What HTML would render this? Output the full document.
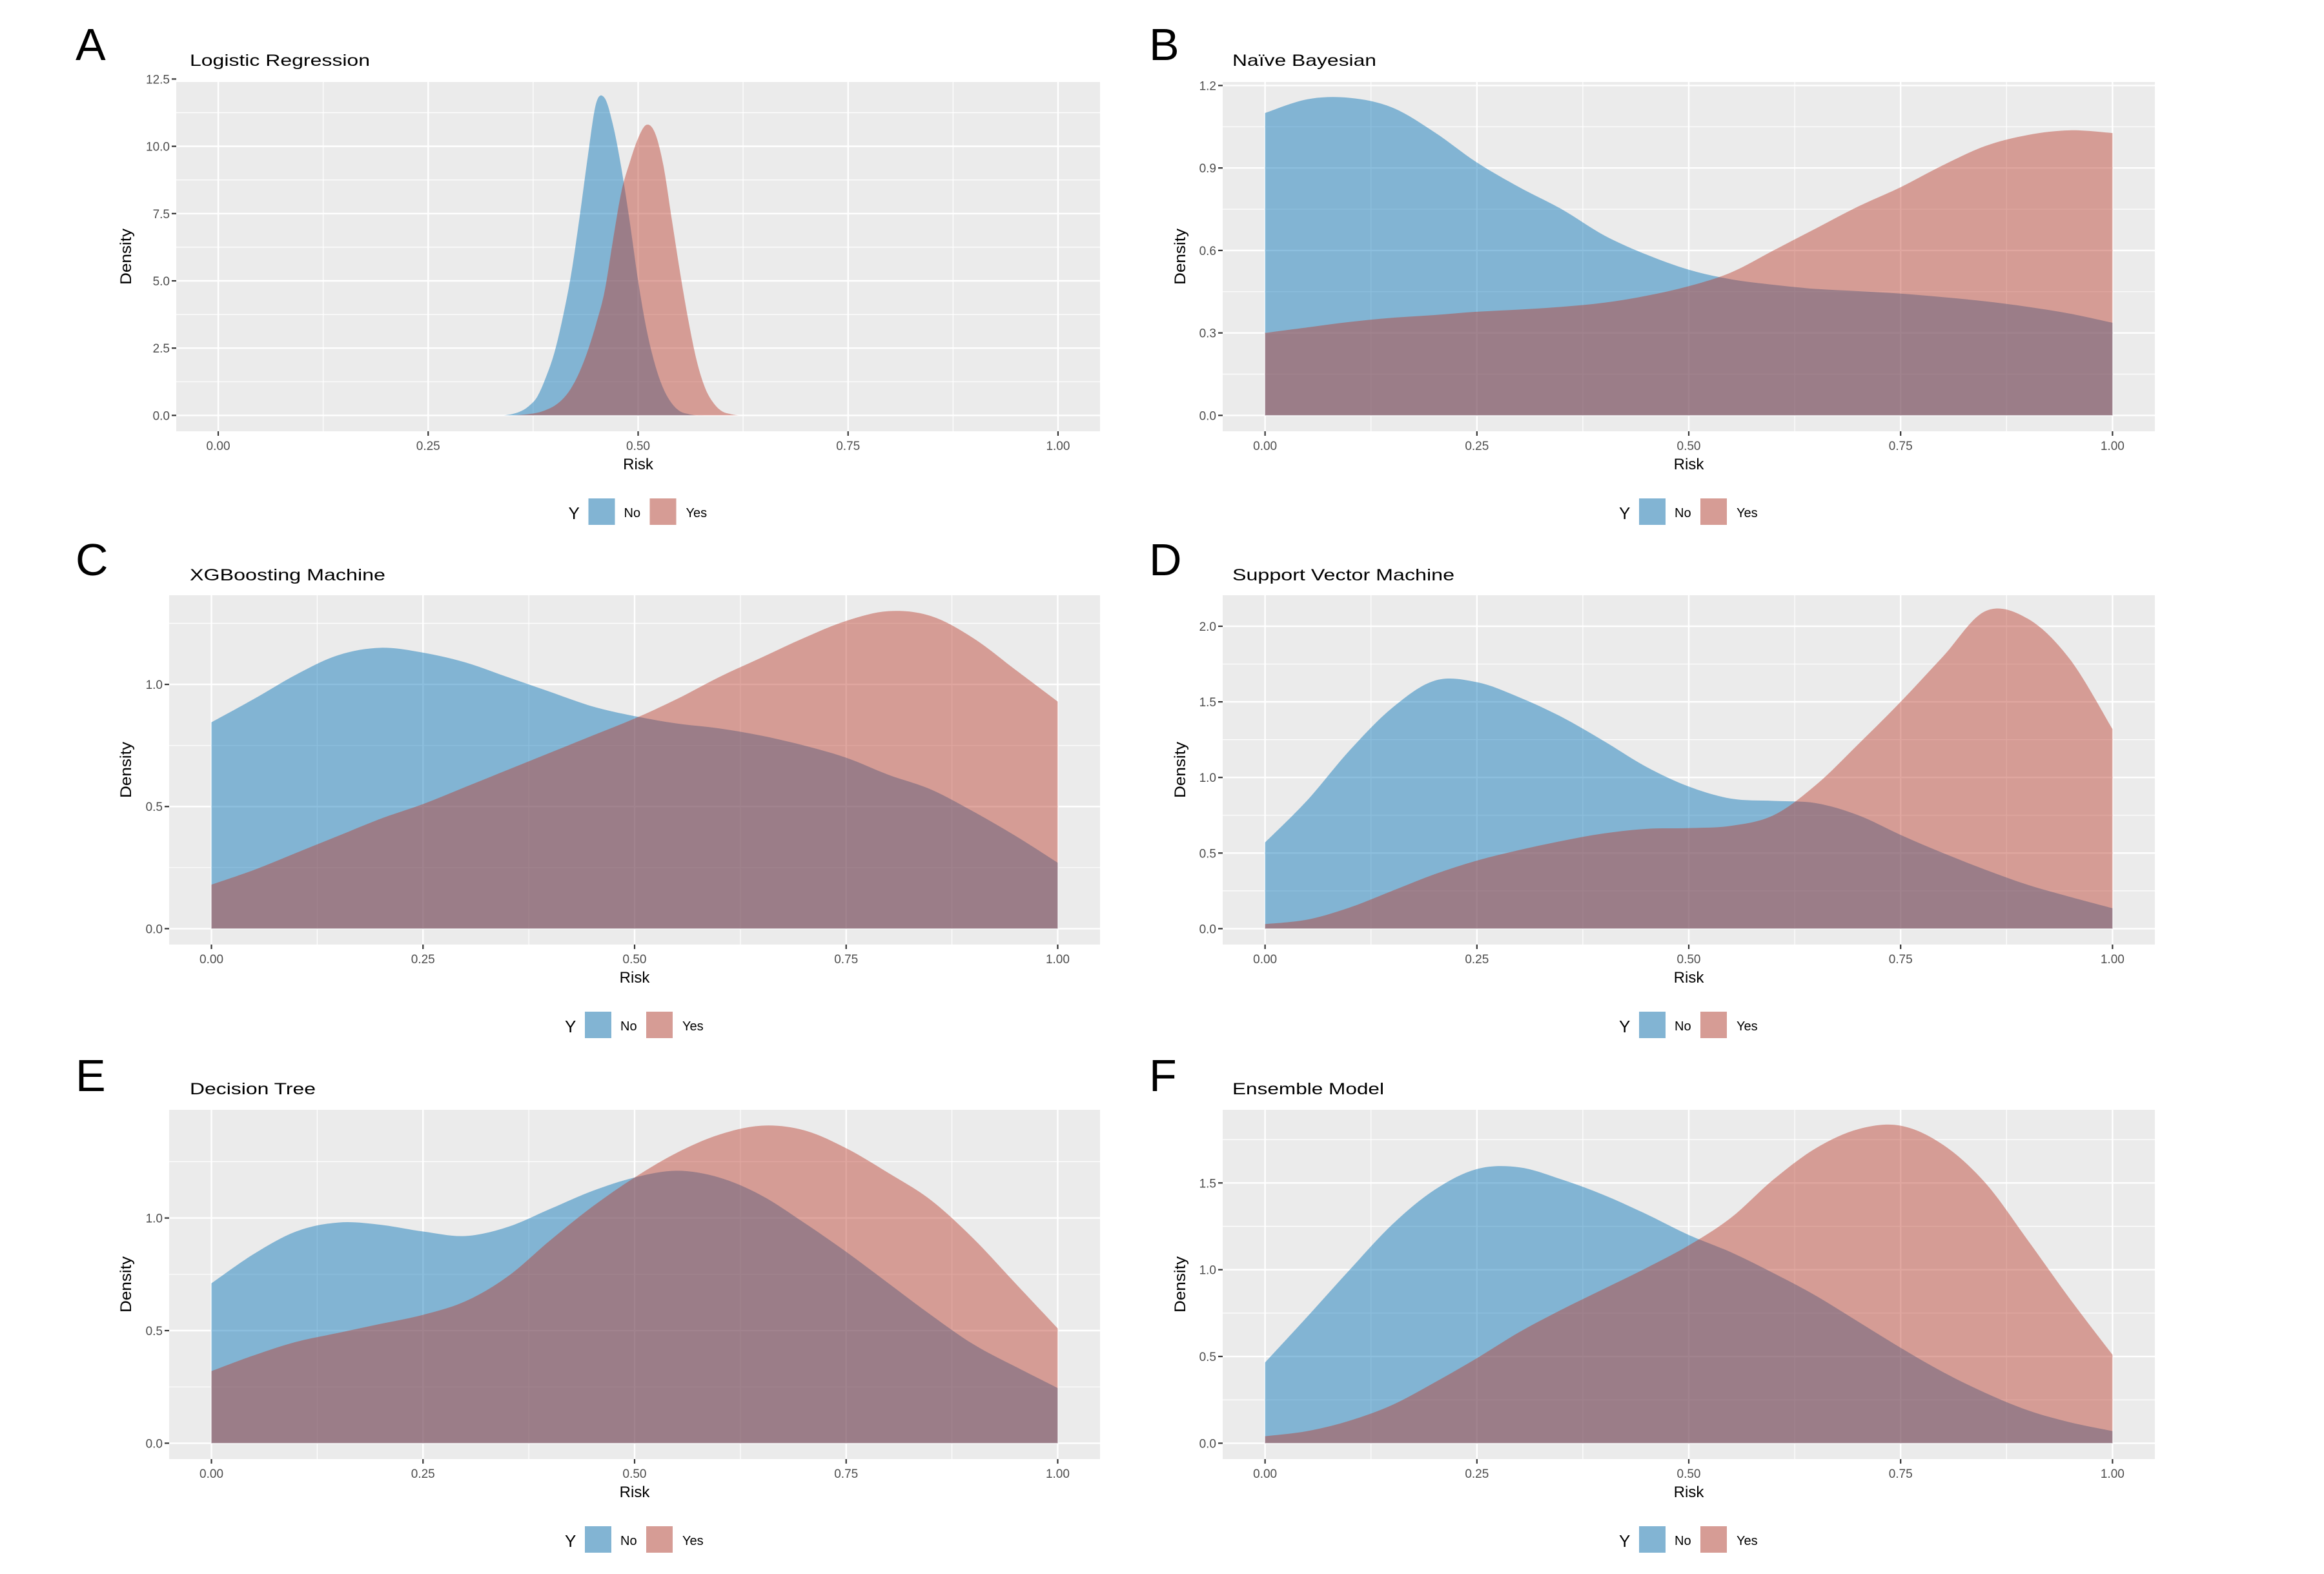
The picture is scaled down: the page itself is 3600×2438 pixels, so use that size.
<!DOCTYPE html>
<html><head><meta charset="utf-8"><style>
html,body{margin:0;padding:0;background:#fff;}
svg{display:block;font-family:"Liberation Sans",Arial,sans-serif;}
</style></head><body>
<svg id="fig" width="3600" height="2438" viewBox="0 0 3600 2438" xmlns="http://www.w3.org/2000/svg"></svg>
<script>
// ---- data ----
const xFine = [0.34,0.35,0.36,0.37,0.38,0.39,0.40,0.41,0.42,0.43,0.44,0.45,0.46,0.47,0.48,0.49,0.50,0.51,0.52,0.53,0.54,0.55,0.56,0.57,0.58,0.59,0.60,0.61,0.62];
const xGrid = [0,0.05,0.10,0.15,0.20,0.25,0.30,0.35,0.40,0.45,0.50,0.55,0.60,0.65,0.70,0.75,0.80,0.85,0.90,0.95,1.0];
const lrNo  = [0,0.05,0.15,0.35,0.7,1.4,2.3,3.6,5.2,7.3,9.6,11.6,11.8,10.8,9.2,7.2,5.0,3.2,1.9,1.0,0.45,0.15,0.05,0,0,0,0,0,0];
const lrYes = [0,0,0.02,0.05,0.1,0.2,0.35,0.6,1.0,1.6,2.4,3.4,4.6,6.5,8.3,9.4,10.3,10.8,10.5,9.3,7.3,5.3,3.5,2.0,1.0,0.45,0.15,0.05,0];
const nbNo  = [1.10,1.15,1.155,1.12,1.03,0.92,0.83,0.75,0.655,0.585,0.53,0.495,0.475,0.46,0.452,0.443,0.43,0.415,0.395,0.37,0.337];
const nbYes = [0.30,0.32,0.34,0.355,0.365,0.377,0.385,0.395,0.41,0.435,0.47,0.52,0.60,0.68,0.76,0.83,0.91,0.98,1.02,1.037,1.027];
const xgNo  = [0.845,0.94,1.04,1.12,1.15,1.13,1.09,1.03,0.97,0.91,0.87,0.84,0.82,0.79,0.75,0.70,0.63,0.57,0.48,0.38,0.27];
const xgYes = [0.18,0.24,0.31,0.38,0.45,0.51,0.58,0.65,0.72,0.79,0.86,0.94,1.03,1.11,1.19,1.26,1.30,1.28,1.19,1.06,0.93];
const svNo  = [0.57,0.85,1.18,1.46,1.64,1.63,1.53,1.40,1.24,1.07,0.94,0.86,0.845,0.83,0.75,0.62,0.50,0.39,0.29,0.21,0.135];
const svYes = [0.03,0.06,0.14,0.25,0.36,0.45,0.52,0.58,0.63,0.66,0.665,0.68,0.75,0.95,1.22,1.50,1.80,2.10,2.05,1.78,1.32];
const dtNo  = [0.71,0.84,0.94,0.98,0.97,0.94,0.92,0.96,1.04,1.12,1.18,1.21,1.18,1.10,0.98,0.85,0.71,0.57,0.44,0.34,0.245];
const dtYes = [0.32,0.39,0.45,0.49,0.53,0.57,0.63,0.74,0.90,1.05,1.18,1.29,1.37,1.41,1.39,1.31,1.20,1.08,0.91,0.71,0.51];
const enNo  = [0.465,0.73,1.00,1.26,1.46,1.58,1.59,1.52,1.43,1.32,1.20,1.10,0.98,0.85,0.70,0.55,0.41,0.29,0.19,0.12,0.07];
const enYes = [0.04,0.07,0.13,0.22,0.35,0.49,0.64,0.77,0.89,1.01,1.14,1.30,1.52,1.70,1.81,1.83,1.72,1.50,1.17,0.83,0.51];
const xTicks = [0,0.25,0.5,0.75,1.0];
const xTickLabels = ["0.00","0.25","0.50","0.75","1.00"];
const yTicksA = [0,2.5,5,7.5,10,12.5];
const yTicksB = [0,0.3,0.6,0.9,1.2];
const yTicksC = [0,0.5,1.0];
const yTicksD = [0,0.5,1.0,1.5,2.0];
const yTicksE = [0,0.5,1.0];
const yTicksF = [0,0.5,1.0,1.5];
const titles = ["Logistic Regression","Naïve Bayesian","XGBoosting Machine","Support Vector Machine","Decision Tree","Ensemble Model"];
const letters = ["A","B","C","D","E","F"];

const NS="http://www.w3.org/2000/svg";
const svg=document.getElementById('fig');
function mk(tag,attrs,parent){const e=document.createElementNS(NS,tag);for(const k in attrs)e.setAttribute(k,attrs[k]);(parent||svg).appendChild(e);return e;}
function txt(s,attrs,parent){const e=mk('text',attrs,parent);e.textContent=s;return e;}

const panels=[
 {x:xFine,no:lrNo,yes:lrYes,yt:yTicksA,dec:1,col:0,row:0,pl:273,tw:279},
 {x:xGrid,no:nbNo,yes:nbYes,yt:yTicksB,dec:1,col:1,row:0,pl:1894,tw:223},
 {x:xGrid,no:xgNo,yes:xgYes,yt:yTicksC,dec:1,col:0,row:1,pl:262,tw:303},
 {x:xGrid,no:svNo,yes:svYes,yt:yTicksD,dec:1,col:1,row:1,pl:1894,tw:344},
 {x:xGrid,no:dtNo,yes:dtYes,yt:yTicksE,dec:1,col:0,row:2,pl:262,tw:195},
 {x:xGrid,no:enNo,yes:enYes,yt:yTicksF,dec:1,col:1,row:2,pl:1894,tw:235}
];
const tops=[127,922,1719];
const rights=[1704,3338];
const titleX=[294,1909], letterX=[117,1780];
const titleBase=[102,899,1695], letterBase=[93,891,1690];

function smoothPath(pts){
  let d='M'+pts[0][0]+','+pts[0][1];
  for(let i=0;i<pts.length-1;i++){
    const p0=pts[Math.max(0,i-1)],p1=pts[i],p2=pts[i+1],p3=pts[Math.min(pts.length-1,i+2)];
    const c1x=p1[0]+(p2[0]-p0[0])/6,c1y=p1[1]+(p2[1]-p0[1])/6;
    const c2x=p2[0]-(p3[0]-p1[0])/6,c2y=p2[1]-(p3[1]-p1[1])/6;
    d+=' C'+c1x.toFixed(2)+','+c1y.toFixed(2)+' '+c2x.toFixed(2)+','+c2y.toFixed(2)+' '+p2[0].toFixed(2)+','+p2[1].toFixed(2);
  }
  return d;
}

panels.forEach((p,i)=>{
  const g=mk('g',{});
  
  
  const L=p.pl,R=rights[p.col],T=tops[p.row],B=T+541,H=B-T;
  const M=Math.max(...p.no,...p.yes);
  const y0=B-H*0.05/1.1;
  const unit=(H/1.1)/M;
  const sy=v=>y0-v*unit;
  const xa=L+(R-L)*0.05/1.1, xb=R-(R-L)*0.05/1.1;
  const sx=v=>xa+v*(xb-xa);
  // letter & title
  const lt=txt(letters[i],{x:letterX[p.col],y:letterBase[p.row],'font-size':70,fill:'#000'},g);
  
  
  const tt=txt(titles[i],{x:titleX[p.col],y:titleBase[p.row],'font-size':25,fill:'#000',textLength:p.tw,lengthAdjust:'spacingAndGlyphs'},g);
  
  
  // background
  const bg=mk('rect',{x:L,y:T,width:R-L,height:H,fill:'#ebebeb'},g);
  
  
  // minor grid
  const step=p.yt[1]-p.yt[0];
  for(let v=step/2;sy(v)>T;v+=step){mk('line',{x1:L,x2:R,y1:sy(v),y2:sy(v),stroke:'#fff','stroke-width':1.2},g);}
  for(let k=0;k<xTicks.length-1;k++){const v=(xTicks[k]+xTicks[k+1])/2;mk('line',{x1:sx(v),x2:sx(v),y1:T,y2:B,stroke:'#fff','stroke-width':1.2},g);}
  // major grid
  p.yt.forEach(v=>{const yy=sy(v);if(yy<T-1)return;mk('line',{x1:L,x2:R,y1:yy,y2:yy,stroke:'#fff','stroke-width':2.4},g);});
  xTicks.forEach(v=>{mk('line',{x1:sx(v),x2:sx(v),y1:T,y2:B,stroke:'#fff','stroke-width':2.4},g);});
  // clip
  const cid='clip'+i;
  const cp=mk('clipPath',{id:cid},g);
  mk('rect',{x:L,y:T,width:R-L,height:y0-T},cp);
  const series=[[p.no,'rgb(0,112,181)','density-no'],[p.yes,'rgb(186,59,43)','density-yes']];
  series.forEach(([vals,col,name])=>{
    const pts=p.x.map((xv,k)=>[sx(xv),sy(vals[k])]);
    const d=smoothPath(pts)+' L'+sx(p.x[p.x.length-1])+','+y0+' L'+sx(p.x[0])+','+y0+' Z';
    const a=mk('path',{d:d,fill:col,'fill-opacity':0.448,'clip-path':'url(#'+cid+')'},g);
    
    
  });
  // axes ticks & labels
  p.yt.forEach(v=>{const yy=sy(v);
    mk('line',{x1:L-7,x2:L,y1:yy,y2:yy,stroke:'#333','stroke-width':2.2},g);
    const t=txt(v.toFixed(p.dec),{x:L-10,y:yy+7,'font-size':19,fill:'#4d4d4d','text-anchor':'end'},g);
    
    
  });
  xTicks.forEach((v,k)=>{
    mk('line',{x1:sx(v),x2:sx(v),y1:B,y2:B+7,stroke:'#333','stroke-width':2.2},g);
    const t=txt(xTickLabels[k],{x:sx(v),y:B+29,'font-size':19,fill:'#4d4d4d','text-anchor':'middle'},g);
    
    
  });
  const cx=(L+R)/2;
  const xt=txt('Risk',{x:sx(0.5),y:B+59,'font-size':24,fill:'#000','text-anchor':'middle'},g);
  
  
  const dx=p.col===0?203:1836;
  const yt=txt('Density',{x:dx,y:(T+B)/2,'font-size':24,fill:'#000','text-anchor':'middle',transform:'rotate(-90 '+dx+' '+((T+B)/2)+')',textLength:87,lengthAdjust:'spacingAndGlyphs'},g);
  
  
  // legend
  const lg=mk('g',{},g);
  
  
  const kt=B+104;
  txt('Y',{x:cx-108,y:kt+32,'font-size':26,fill:'#000'},lg);
  const k1=mk('rect',{x:cx-77,y:kt,width:41,height:41,fill:'#82b4d3'},lg);
  
  
  txt('No',{x:cx-22,y:kt+29,'font-size':20,fill:'#000'},lg);
  const k2=mk('rect',{x:cx+18,y:kt,width:41,height:41,fill:'#d69c95'},lg);
  
  
  txt('Yes',{x:cx+74,y:kt+29,'font-size':20,fill:'#000'},lg);
});
</script>
</body></html>
